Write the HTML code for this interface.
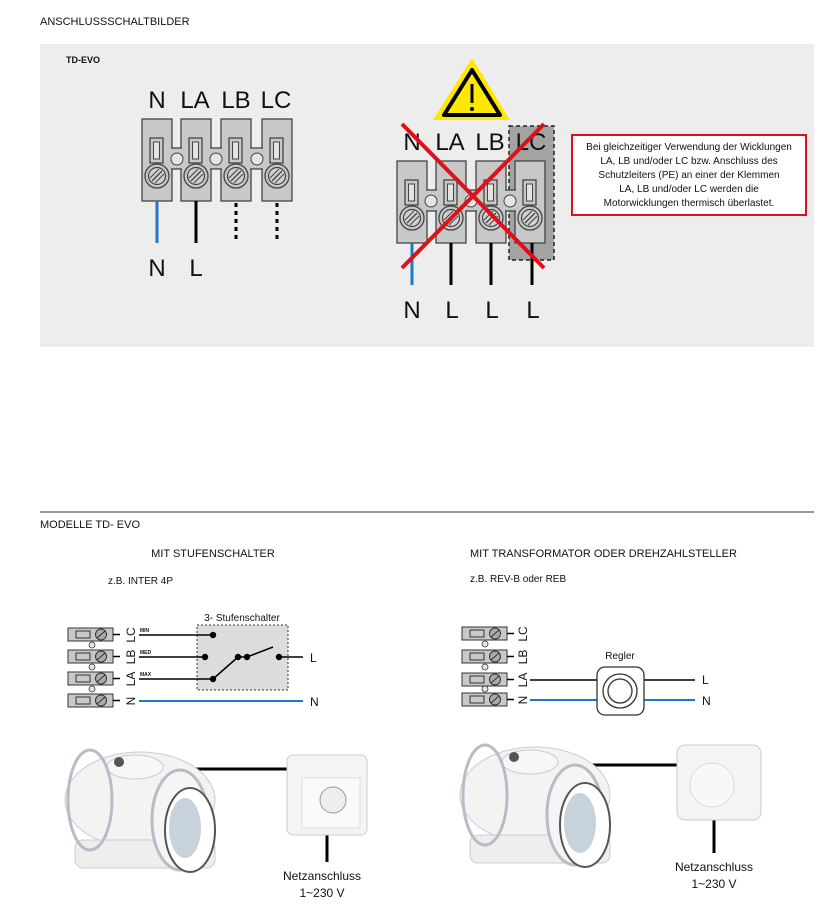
<!DOCTYPE html>
<html><head><meta charset="utf-8"><style>
html,body{margin:0;padding:0;background:#fff;}
svg{display:block;font-family:"Liberation Sans",sans-serif;}
</style></head><body>
<svg width="830" height="904" viewBox="0 0 830 904" xmlns="http://www.w3.org/2000/svg">
<defs>
<g id="blk">
 <rect x="0" y="0" width="30" height="82" fill="#c8c8c8" stroke="#444" stroke-width="1.3"/>
</g>
<g id="blkin">
 <rect x="8" y="19" width="13" height="25" fill="#c8c8c8" stroke="#444" stroke-width="1.3"/>
 <rect x="11.5" y="23" width="6" height="17" fill="#e4e4e4" stroke="#444" stroke-width="1"/>
 <circle cx="15" cy="57" r="12" fill="#c8c8c8" stroke="#444" stroke-width="1.3"/>
 <circle cx="15" cy="57" r="8.5" fill="#d0d0d0" stroke="#444" stroke-width="1.2"/>
 <line x1="10" y1="62" x2="20" y2="52" stroke="#444" stroke-width="1.3"/>
 <line x1="8" y1="59" x2="17" y2="50" stroke="#444" stroke-width="1.1"/>
 <line x1="13" y1="64" x2="22" y2="55" stroke="#444" stroke-width="1.1"/>
</g>
<g id="small">
 <rect x="0" y="0" width="45" height="13" fill="#c8c8c8" stroke="#333" stroke-width="1"/>
 <rect x="8" y="3" width="14" height="7" fill="#c8c8c8" stroke="#333"/>
 <circle cx="33" cy="6.5" r="5.5" fill="#aaa" stroke="#333"/>
 <line x1="29" y1="10" x2="37" y2="3" stroke="#333"/>
 <line x1="45" y1="6.5" x2="52" y2="6.5" stroke="#000" stroke-width="1.5"/>
</g>
</defs>

<text x="40" y="25" font-size="11" fill="#111">ANSCHLUSSSCHALTBILDER</text>
<rect x="40" y="44" width="774" height="303" fill="#ededed"/>
<text x="66" y="63" font-size="9" font-weight="bold" fill="#111">TD-EVO</text>

<!-- left block -->
<use href="#blk" x="142" y="119"/>
<use href="#blk" x="181" y="119"/>
<use href="#blk" x="221" y="119"/>
<use href="#blk" x="262" y="119"/>
<rect x="171" y="148" width="11" height="21" fill="#c8c8c8"/>
<rect x="210" y="148" width="12" height="21" fill="#c8c8c8"/>
<rect x="250" y="148" width="13" height="21" fill="#c8c8c8"/>
<g stroke="#444" stroke-width="1.3">
<line x1="171" y1="148" x2="182" y2="148"/><line x1="171" y1="169" x2="182" y2="169"/>
<line x1="210" y1="148" x2="222" y2="148"/><line x1="210" y1="169" x2="222" y2="169"/>
<line x1="250" y1="148" x2="263" y2="148"/><line x1="250" y1="169" x2="263" y2="169"/>
</g>
<use href="#blkin" x="142" y="119"/>
<use href="#blkin" x="181" y="119"/>
<use href="#blkin" x="221" y="119"/>
<use href="#blkin" x="262" y="119"/>
<circle cx="177" cy="159" r="6" fill="#e4e4e4" stroke="#444"/>
<circle cx="216" cy="159" r="6" fill="#e4e4e4" stroke="#444"/>
<circle cx="257" cy="159" r="6" fill="#e4e4e4" stroke="#444"/>
<g font-size="24" fill="#111" text-anchor="middle">
<text x="157" y="108">N</text><text x="195" y="108">LA</text><text x="236" y="108">LB</text><text x="276" y="108">LC</text>
<text x="157" y="276">N</text><text x="196" y="276">L</text>
</g>
<line x1="157" y1="201" x2="157" y2="243" stroke="#1f78c8" stroke-width="3"/>
<line x1="196" y1="201" x2="196" y2="243" stroke="#000" stroke-width="3"/>
<line x1="236" y1="203" x2="236" y2="243" stroke="#000" stroke-width="3" stroke-dasharray="4,4"/>
<line x1="277" y1="203" x2="277" y2="243" stroke="#000" stroke-width="3" stroke-dasharray="4,4"/>

<!-- right block -->
<rect x="509" y="126" width="45" height="134" fill="#a3a3a3" stroke="#222" stroke-width="1.5" stroke-dasharray="4,3"/>
<use href="#blk" x="397" y="161"/>
<use href="#blk" x="436" y="161"/>
<use href="#blk" x="476" y="161"/>
<use href="#blk" x="515" y="161"/>
<rect x="426" y="190" width="11" height="21" fill="#c8c8c8"/>
<rect x="465" y="190" width="12" height="21" fill="#c8c8c8"/>
<rect x="505" y="190" width="11" height="21" fill="#c8c8c8"/>
<g stroke="#444" stroke-width="1.3">
<line x1="426" y1="190" x2="437" y2="190"/><line x1="426" y1="211" x2="437" y2="211"/>
<line x1="465" y1="190" x2="477" y2="190"/><line x1="465" y1="211" x2="477" y2="211"/>
<line x1="505" y1="190" x2="516" y2="190"/><line x1="505" y1="211" x2="516" y2="211"/>
</g>
<use href="#blkin" x="397" y="161"/>
<use href="#blkin" x="436" y="161"/>
<use href="#blkin" x="476" y="161"/>
<use href="#blkin" x="515" y="161"/>
<circle cx="431" cy="201" r="6" fill="#e4e4e4" stroke="#444"/>
<circle cx="471" cy="201" r="6" fill="#e4e4e4" stroke="#444"/>
<circle cx="510" cy="201" r="6" fill="#e4e4e4" stroke="#444"/>
<g font-size="24" fill="#111" text-anchor="middle">
<text x="412" y="150">N</text><text x="450" y="150">LA</text><text x="490" y="150">LB</text><text x="531" y="150">LC</text>
<text x="412" y="318">N</text><text x="452" y="318">L</text><text x="492" y="318">L</text><text x="533" y="318">L</text>
</g>
<line x1="412" y1="243" x2="412" y2="285" stroke="#1f78c8" stroke-width="3"/>
<line x1="451" y1="243" x2="451" y2="285" stroke="#000" stroke-width="3"/>
<line x1="491" y1="243" x2="491" y2="285" stroke="#000" stroke-width="3"/>
<line x1="532" y1="243" x2="532" y2="285" stroke="#000" stroke-width="3"/>
<line x1="402" y1="124" x2="544" y2="268" stroke="#e0101a" stroke-width="4"/>
<line x1="544" y1="124" x2="402" y2="268" stroke="#e0101a" stroke-width="4"/>
<polygon points="472,58 510,120 433,120" fill="#ffe800"/>
<polygon points="472,70 500,115 444,115" fill="none" stroke="#000" stroke-width="4" stroke-linejoin="round"/>
<line x1="472" y1="84" x2="472" y2="103" stroke="#000" stroke-width="3"/>
<circle cx="472" cy="109" r="2" fill="#000"/>

<rect x="572" y="135" width="234" height="80" fill="#fff" stroke="#e0101a" stroke-width="2"/>
<g font-size="10" fill="#111" text-anchor="middle">
<text x="689" y="150">Bei gleichzeitiger Verwendung der Wicklungen</text>
<text x="689" y="164">LA, LB und/oder LC bzw. Anschluss des</text>
<text x="689" y="178">Schutzleiters (PE) an einer der Klemmen</text>
<text x="689" y="192">LA, LB und/oder LC werden die</text>
<text x="689" y="206">Motorwicklungen thermisch überlastet.</text>
</g>

<line x1="40" y1="512" x2="814" y2="512" stroke="#333" stroke-width="1"/>
<text x="40" y="528" font-size="11" fill="#111">MODELLE TD- EVO</text>
<text x="213" y="557" font-size="11" fill="#111" text-anchor="middle">MIT STUFENSCHALTER</text>
<text x="108" y="584" font-size="10" fill="#111">z.B. INTER 4P</text>
<text x="470" y="557" font-size="11" fill="#111">MIT TRANSFORMATOR ODER DREHZAHLSTELLER</text>
<text x="470" y="582" font-size="10" fill="#111">z.B. REV-B oder REB</text>

<!-- left schematic -->
<use href="#small" x="68" y="628"/>
<use href="#small" x="68" y="650"/>
<use href="#small" x="68" y="672"/>
<use href="#small" x="68" y="694"/>
<g fill="#e4e4e4" stroke="#333" stroke-width="0.8"><circle cx="92" cy="645" r="3"/><circle cx="92" cy="667" r="3"/><circle cx="92" cy="689" r="3"/></g>
<g font-size="12" fill="#111" text-anchor="middle">
<text transform="translate(131,635) rotate(-90)" y="4">LC</text>
<text transform="translate(131,657) rotate(-90)" y="4">LB</text>
<text transform="translate(131,679) rotate(-90)" y="4">LA</text>
<text transform="translate(131,701) rotate(-90)" y="4">N</text>
</g>
<rect x="197" y="625" width="91" height="65" fill="#dcdcdc" stroke="#333" stroke-dasharray="2,2"/>
<text x="242" y="621" font-size="10" text-anchor="middle" fill="#111">3- Stufenschalter</text>
<g font-size="5" font-weight="bold" fill="#111"><text x="140" y="632">MIN</text><text x="140" y="654">MED</text><text x="140" y="676">MAX</text></g>
<g stroke="#000" stroke-width="1.5">
<line x1="139" y1="635" x2="213" y2="635"/>
<line x1="139" y1="657" x2="205" y2="657"/>
<line x1="139" y1="679" x2="213" y2="679"/>
<line x1="213" y1="679" x2="238" y2="657"/>
<line x1="238" y1="657" x2="247" y2="657"/>
<line x1="247" y1="657" x2="273" y2="647"/>
<line x1="279" y1="657" x2="303" y2="657"/>
</g>
<g fill="#000"><circle cx="213" cy="635" r="3.2"/><circle cx="205" cy="657" r="3.2"/><circle cx="213" cy="679" r="3.2"/><circle cx="238" cy="657" r="3.2"/><circle cx="247" cy="657" r="3.2"/><circle cx="279" cy="657" r="3.2"/></g>
<line x1="139" y1="701" x2="303" y2="701" stroke="#1f78c8" stroke-width="2"/>
<text x="310" y="662" font-size="12" fill="#111">L</text>
<text x="310" y="706" font-size="12" fill="#111">N</text>

<!-- right schematic -->
<use href="#small" x="462" y="627"/>
<use href="#small" x="462" y="650"/>
<use href="#small" x="462" y="673"/>
<use href="#small" x="462" y="693"/>
<g fill="#e4e4e4" stroke="#333" stroke-width="0.8"><circle cx="485" cy="644" r="3"/><circle cx="485" cy="667" r="3"/><circle cx="485" cy="689" r="3"/></g>
<g font-size="12" fill="#111" text-anchor="middle">
<text transform="translate(523,634) rotate(-90)" y="4">LC</text>
<text transform="translate(523,657) rotate(-90)" y="4">LB</text>
<text transform="translate(523,680) rotate(-90)" y="4">LA</text>
<text transform="translate(523,700) rotate(-90)" y="4">N</text>
</g>
<line x1="530" y1="680" x2="695" y2="680" stroke="#000" stroke-width="1.5"/>
<line x1="530" y1="700" x2="695" y2="700" stroke="#1f78c8" stroke-width="2"/>
<rect x="597" y="667" width="47" height="48" rx="8" fill="#fff" stroke="#333" stroke-width="1.3"/>
<circle cx="620" cy="691" r="17" fill="#fff" stroke="#333" stroke-width="1.3"/>
<circle cx="620" cy="691" r="12" fill="#fff" stroke="#333" stroke-width="1.3"/>
<text x="620" y="659" font-size="10" text-anchor="middle" fill="#111">Regler</text>
<text x="702" y="684" font-size="12" fill="#111">L</text>
<text x="702" y="705" font-size="12" fill="#111">N</text>

<!-- left fan -->
<line x1="160" y1="769" x2="290" y2="769" stroke="#000" stroke-width="3"/>
<line x1="327" y1="832" x2="327" y2="862" stroke="#000" stroke-width="3"/>
<g>
<ellipse cx="140" cy="800" rx="75" ry="48" fill="#f3f3f3" stroke="#ccc"/>
<rect x="75" y="840" width="140" height="28" rx="8" fill="#eee" stroke="#ccc"/>
<ellipse cx="135" cy="767" rx="28" ry="12" fill="#f7f7f7" stroke="#ccc"/>
<circle cx="119" cy="762" r="5" fill="#555"/>
<ellipse cx="90" cy="800" rx="22" ry="50" fill="none" stroke="#b8bcc8" stroke-width="3"/>
<ellipse cx="180" cy="820" rx="28" ry="50" fill="#f5f5f5" stroke="#b8bcc8" stroke-width="3"/>
<ellipse cx="190" cy="830" rx="25" ry="42" fill="#fff" stroke="#555" stroke-width="2"/>
<ellipse cx="185" cy="828" rx="16" ry="30" fill="#c8d2dc"/>
</g>
<rect x="287" y="755" width="80" height="80" rx="6" fill="#f4f4f4" stroke="#ccc"/>
<rect x="302" y="778" width="58" height="50" fill="#fafafa" stroke="#ddd"/>
<circle cx="333" cy="800" r="13" fill="#eee" stroke="#999"/>
<text x="322" y="880" font-size="12" text-anchor="middle" fill="#111">Netzanschluss</text>
<text x="322" y="897" font-size="12" text-anchor="middle" fill="#111">1~230 V</text>

<!-- right fan -->
<line x1="555" y1="765" x2="680" y2="765" stroke="#000" stroke-width="3"/>
<line x1="714" y1="818" x2="714" y2="853" stroke="#000" stroke-width="3"/>
<g>
<ellipse cx="535" cy="795" rx="75" ry="48" fill="#f3f3f3" stroke="#ccc"/>
<rect x="470" y="835" width="140" height="28" rx="8" fill="#eee" stroke="#ccc"/>
<ellipse cx="530" cy="762" rx="28" ry="12" fill="#f7f7f7" stroke="#ccc"/>
<circle cx="514" cy="757" r="5" fill="#555"/>
<ellipse cx="485" cy="795" rx="22" ry="50" fill="none" stroke="#b8bcc8" stroke-width="3"/>
<ellipse cx="575" cy="815" rx="28" ry="50" fill="#f5f5f5" stroke="#b8bcc8" stroke-width="3"/>
<ellipse cx="585" cy="825" rx="25" ry="42" fill="#fff" stroke="#555" stroke-width="2"/>
<ellipse cx="580" cy="823" rx="16" ry="30" fill="#c8d2dc"/>
</g>
<rect x="677" y="745" width="84" height="75" rx="8" fill="#f4f4f4" stroke="#ccc"/>
<circle cx="712" cy="785" r="22" fill="#f8f8f8" stroke="#ddd"/>
<text x="714" y="871" font-size="12" text-anchor="middle" fill="#111">Netzanschluss</text>
<text x="714" y="888" font-size="12" text-anchor="middle" fill="#111">1~230 V</text>
</svg>
</body></html>
